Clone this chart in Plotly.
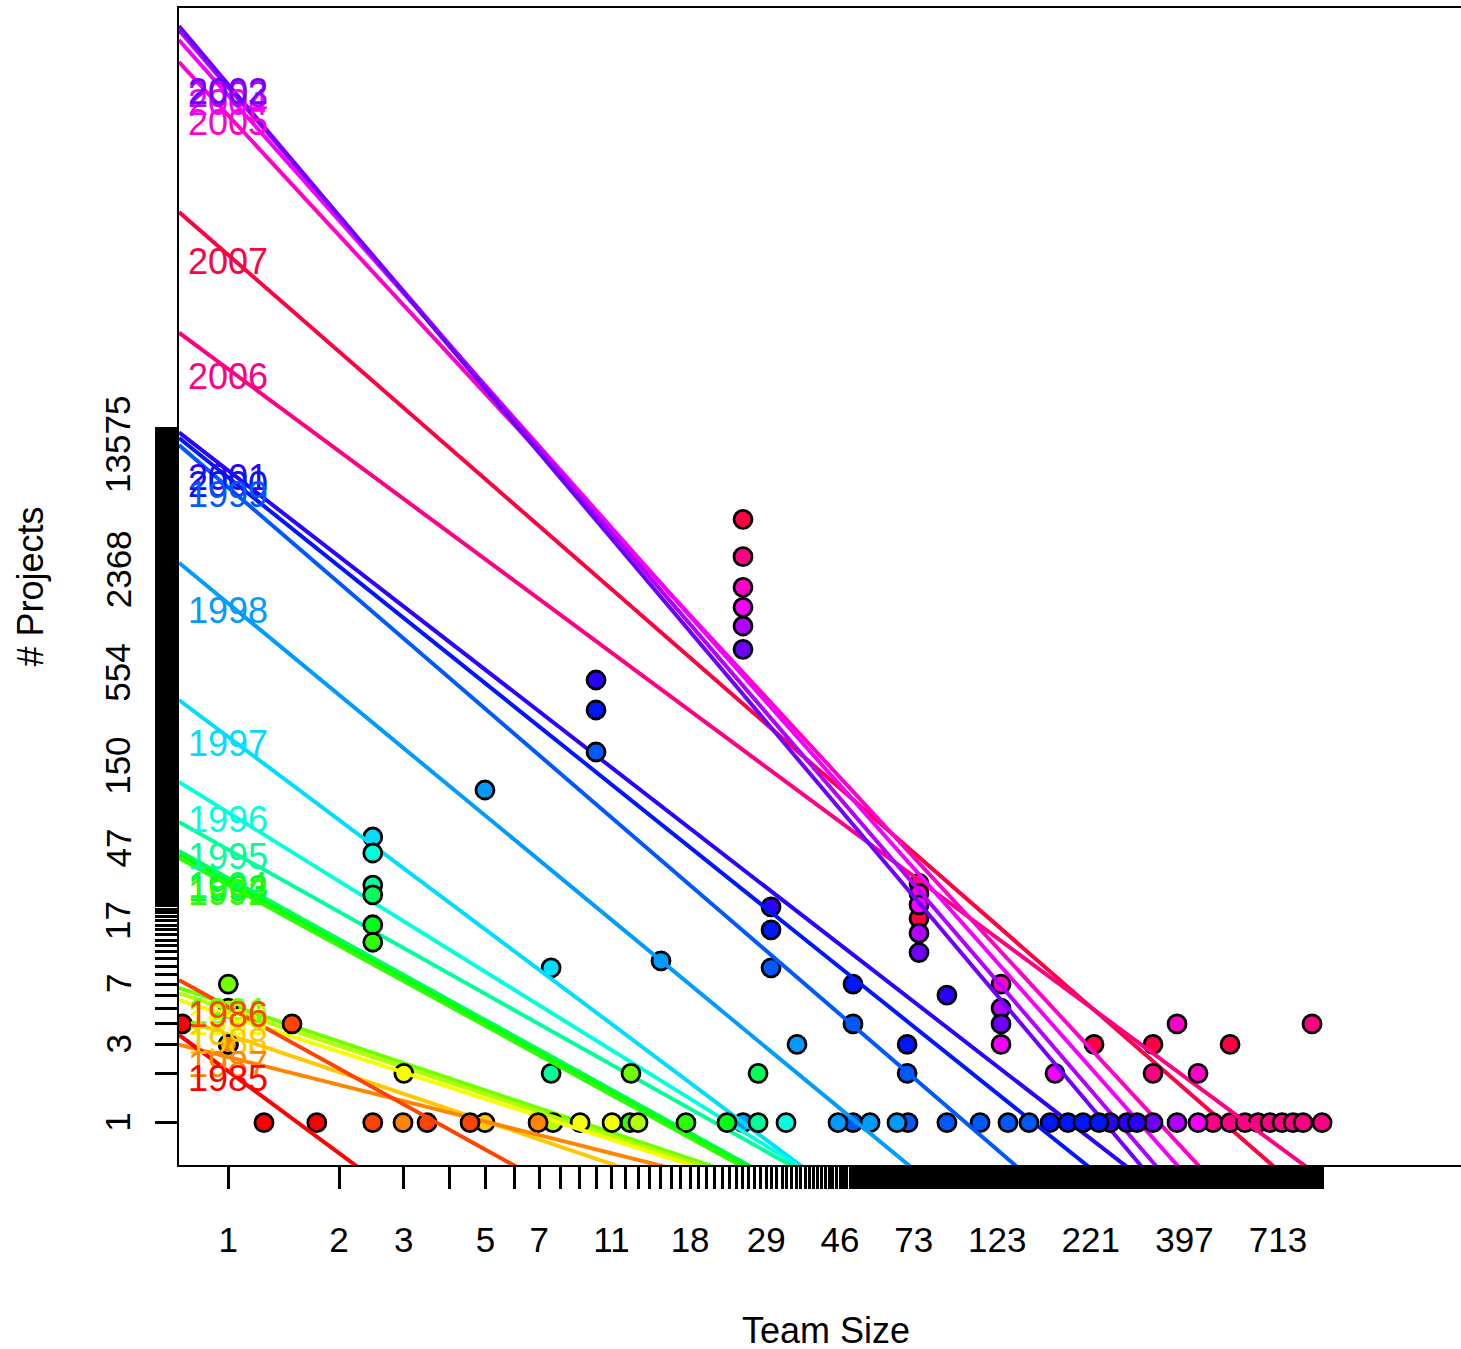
import colorsys
import math
import plotly.graph_objects as go

# ---------------- data ----------------
years = list(range(1985, 2008))
# regression fits per year in log10 space: log10(count) = a + b*log10(size)
intercepts = [0.313, 0.704, 0.400, 0.537, 0.651, 0.691, 0.721, 1.449, 1.468, 1.491,
              1.665, 1.891, 2.352, 3.166, 3.873, 3.934, 3.976, 6.331, 6.313, 6.263,
              6.142, 4.595, 5.291]
slopes = [-1.657, -1.242, -0.563, -0.757, -0.724, -0.741, -0.750, -1.228, -1.229, -1.238,
          -1.259, -1.390, -1.680, -1.852, -1.932, -1.797, -1.738, -2.658, -2.608, -2.529,
          -2.428, -1.660, -1.956]

pt_year = [
    1985, 1985, 1985,
    1986, 1986, 1986, 1986,
    1987, 1987, 1987,
    1988, 1988,
    1989, 1989, 1989,
    1990, 1990, 1990,
    1991, 1991,
    1992, 1992, 1992,
    1993, 1993,
    1994, 1994,
    1995, 1995, 1995,
    1996, 1996,
    1997, 1997,
    1998, 1998, 1998, 1998, 1998, 1998, 1998,
    1999, 1999, 1999, 1999, 1999, 1999, 1999, 1999, 1999, 1999,
    2000, 2000, 2000, 2000, 2000, 2000, 2000, 2000,
    2001, 2001, 2001, 2001, 2001, 2001,
    2002, 2002, 2002, 2002,
    2003, 2003, 2003, 2003,
    2004, 2004, 2004, 2004, 2004,
    2005, 2005, 2005, 2005, 2005,
    2006, 2006, 2006, 2006, 2006, 2006, 2006, 2006, 2006, 2006, 2006, 2006, 2006,
    2007, 2007, 2007, 2007, 2007,
]
pt_size = [
    0.75, 1.25, 1.74,
    1.49, 2.47, 3.47, 4.54,
    2.985, 6.95, 1.0,
    4.985, 1.0,
    3.0, 9.04, 11.04,
    1.0, 7.63, 12.99,
    1.0, 12.43,
    2.47, 12.36, 17.54,
    2.47, 22.67,
    2.47, 27.54,
    2.47, 7.54, 27.54,
    2.47, 32.81,
    2.47, 7.54,
    4.985, 15.0, 35.14, 25.06, 45.42, 55.5, 65.7,
    9.99, 29.87, 49.89, 70.0, 49.89, 70.4, 89.8, 110.5, 131.6, 150.1,
    9.99, 29.87, 49.89, 70.0, 171.2, 191.6, 210.5, 232.6,
    9.99, 29.87, 89.8, 249.3, 277.3, 295.1,
    25.06, 75.4, 126.0, 326.2,
    25.06, 75.4, 126.0, 379.1,
    25.06, 75.4, 126.0, 176.6, 432.3,
    25.06, 75.4, 126.0, 379.1, 432.3,
    25.06, 75.4, 326.2, 882.5, 475.0, 528.3, 580.2, 629.5, 678.5, 731.4, 783.8, 834.5, 939.6,
    25.06, 75.4, 225.5, 326.2, 528.3,
]
pt_count = [
    4, 1, 1,
    4, 1, 1, 1,
    1, 1, 3,
    1, 3,
    2, 1, 1,
    5, 1, 1,
    7, 2,
    12.6, 1, 1,
    16.1, 1,
    24.5, 2,
    28.1, 2, 1,
    44.1, 1,
    55.2, 8.8,
    106.8, 9.7, 3, 1, 1, 1, 1,
    182.1, 8.8, 4, 2, 1, 1, 1, 1, 1, 1,
    328.5, 15.0, 7, 3, 1, 1, 1, 1,
    500.5, 20.7, 6, 1, 1, 1,
    770, 10.9, 4, 1,
    1068, 14.3, 5, 1,
    1389, 21.3, 3, 2, 1,
    1839, 25.0, 7, 4, 2,
    2827, 28.8, 2, 4, 1, 1, 1, 1, 1, 1, 1, 1, 1,
    4778, 17.6, 3, 3, 3,
]

x_tick_labels = [1, 2, 3, 5, 7, 11, 18, 29, 46, 73, 123, 221, 397, 713]
y_tick_labels = [1, 3, 7, 17, 47, 150, 554, 2368, 13575]
x_tick_max = 940
y_tick_max = 17000

# ---------------- style ----------------
FONT = "Liberation Sans, Arial, Helvetica, sans-serif"
W, H = 1461, 1349
ML, MT, MB = 179, 8, 184
PW, PH = W - ML, H - MT - MB

n = len(years)
colors = []
for i in range(n):
    r, g, b = colorsys.hsv_to_rgb(i / n, 1, 1)
    colors.append("#%02X%02X%02X" % (round(r * 255), round(g * 255), round(b * 255)))

xr = [-0.134, 3.3506]
yr = [-0.258, 6.797]

fig = go.Figure()
annotations = []
# drawn from the latest year to the earliest, so earlier years end up on top
for i in reversed(range(n)):
    yv = years[i]
    c = colors[i]
    xs = [s for s, y in zip(pt_size, pt_year) if y == yv]
    ys = [v for v, y in zip(pt_count, pt_year) if y == yv]
    fig.add_trace(go.Scatter(x=xs, y=ys, mode="markers",
                             marker=dict(size=18, color=c, line=dict(color="black", width=2.8)),
                             showlegend=False, hoverinfo="skip"))
    lx = [10 ** xr[0], 10 ** xr[1]]
    ly = [10 ** (intercepts[i] + slopes[i] * math.log10(v)) for v in lx]
    fig.add_trace(go.Scatter(x=lx, y=ly, mode="lines", line=dict(color=c, width=4),
                             showlegend=False, hoverinfo="skip"))
    # year label centred at team size 1, at the fitted value (log10 coordinates for annotations)
    annotations.append(dict(text=str(yv), x=0, y=intercepts[i], xref="x", yref="y",
                            showarrow=False, xanchor="center", yanchor="middle", yshift=-7,
                            font=dict(family=FONT, size=36, color=c)))

# y tick labels (rotated, centred on their ticks)
for v in y_tick_labels:
    annotations.append(dict(text=str(v), x=(118 - ML) / PW, y=math.log10(v),
                            xref="paper", yref="y", showarrow=False, textangle=-90,
                            xanchor="center", yanchor="middle",
                            font=dict(family=FONT, size=35, color="black")))

xt = list(range(1, x_tick_max + 1))
xtt = [str(v) if v in x_tick_labels else "" for v in xt]
yt = list(range(1, y_tick_max + 1))

annotations += [
    dict(text="Team Size", x=(826 - ML) / PW, y=(MT + PH - 1330) / PH,
         xref="paper", yref="paper", showarrow=False, xanchor="center", yanchor="middle",
         font=dict(family=FONT, size=36, color="black")),
    dict(text="# Projects", x=(30 - ML) / PW, y=0.5, textangle=-90,
         xref="paper", yref="paper", showarrow=False, xanchor="center", yanchor="middle",
         font=dict(family=FONT, size=36, color="black")),
]

fig.update_layout(
    width=W, height=H,
    margin=dict(l=ML, r=0, t=MT, b=MB),
    plot_bgcolor="white", paper_bgcolor="white",
    font=dict(family=FONT, size=35, color="black"),
    xaxis=dict(type="log", range=xr, tickmode="array", tickvals=xt, ticktext=xtt,
               ticks="outside", ticklen=22, tickwidth=2.7, tickcolor="black",
               showline=True, linewidth=2, linecolor="black", mirror=True,
               showgrid=False, zeroline=False, tickangle=0, ticklabelstandoff=21,
               tickfont=dict(family=FONT, size=35, color="black")),
    yaxis=dict(type="log", range=yr, tickmode="array", tickvals=yt,
               ticks="outside", ticklen=22, tickwidth=2.7, tickcolor="black",
               showticklabels=False,
               showline=True, linewidth=2, linecolor="black", mirror=False,
               showgrid=False, zeroline=False),
    annotations=annotations,
)

fig.write_html("out.html", config={"displayModeBar": False},
               post_script="document.body.style.margin='0';document.body.style.overflow='hidden';")
